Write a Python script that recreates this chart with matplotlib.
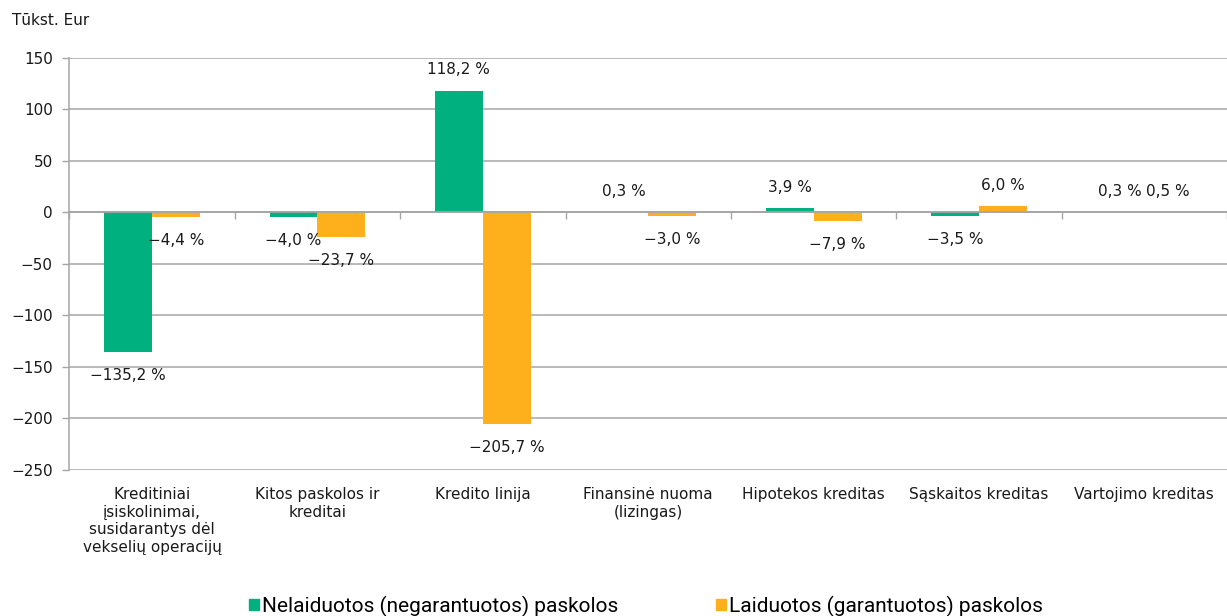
import matplotlib.pyplot as plt
from matplotlib.patches import Patch
from matplotlib.transforms import blended_transform_factory

categories = ["Kreditiniai\nįsiskolinimai,\nsusidarantys dėl\nvekselių operacijų",
              "Kitos paskolos ir\nkreditai", "Kredito linija",
              "Finansinė nuoma\n(lizingas)", "Hipotekos kreditas",
              "Sąskaitos kreditas", "Vartojimo kreditas"]
unsecured = [-135.2, -4.0, 118.2, 0.3, 3.9, -3.5, 0.3]
secured = [-4.4, -23.7, -205.7, -3.0, -7.9, 6.0, 0.5]
series_names = ["Nelaiduotos (negarantuotos) paskolos", "Laiduotos (garantuotos) paskolos"]
yticks = [-250, -200, -150, -100, -50, 0, 50, 100, 150]

GREEN = "#00B07F"
ORANGE = "#FDB01B"
GRID = "#A6A6A6"

plt.rcParams['font.family'] = ['DejaVu Sans']
fig = plt.figure(figsize=(12.27, 6.16), dpi=100)
ax = fig.add_axes([0.0566, 0.237, 0.9434, 0.669])

w = 0.29
xs = list(range(len(categories)))
ax.bar([x - w / 2 for x in xs], unsecured, width=w, color=GREEN, zorder=3)
ax.bar([x + w / 2 for x in xs], secured, width=w, color=ORANGE, zorder=3)


def fmt(v):
    return f"{v:.1f}".replace('.', ',').replace('-', '\u2212') + " %"


for vals, shift in ((unsecured, -w / 2), (secured, w / 2)):
    for x, v in zip(xs, vals):
        off = 15 if v >= 0 else -17
        ax.annotate(fmt(v), (x + shift, v), xytext=(0, off), textcoords='offset points',
                    ha='center', va='center', fontsize=11, color='#1a1a1a')

ax.set_xlim(-0.5, len(categories) - 0.5)
ax.set_ylim(-250, 150)
ax.set_yticks(yticks)
ax.tick_params(axis='y', length=5, width=1, color=GRID, pad=7, labelsize=11, labelcolor='#1a1a1a')
ax.yaxis.grid(True, color=GRID, linewidth=1.1, zorder=0)
ax.set_axisbelow(True)

ax.set_xticks([x - 0.5 for x in xs] + [len(categories) - 0.5])
ax.set_xticklabels([])
ax.tick_params(axis='x', length=5, width=1, color=GRID, direction='out')
ax.spines['bottom'].set_position(('data', 0))
ax.spines['bottom'].set_color(GRID)
ax.spines['bottom'].set_linewidth(1.3)
ax.spines['bottom'].set_zorder(4)
ax.spines['left'].set_color(GRID)
ax.spines['left'].set_linewidth(1.1)
ax.spines['top'].set_visible(False)
ax.spines['right'].set_visible(False)

tr = blended_transform_factory(ax.transData, ax.transAxes)
for x, name in zip(xs, categories):
    ax.text(x, -0.042, name, transform=tr, ha='center', va='top', fontsize=11,
            linespacing=1.2, color='#1a1a1a')

fig.text(0.01, 0.967, "Tūkst. Eur", fontsize=11, va='center', ha='left', color='#1a1a1a')

handles = [Patch(color=GREEN), Patch(color=ORANGE)]
fig.legend(handles, series_names, loc='center', bbox_to_anchor=(0.5265, 0.016), ncol=2,
           frameon=False, handlelength=0.48, handleheight=0.48, handletextpad=0.15,
           columnspacing=4.7, prop={'family': ['Roboto', 'DejaVu Sans'], 'size': 15})

fig.savefig("out.png", dpi=100)
